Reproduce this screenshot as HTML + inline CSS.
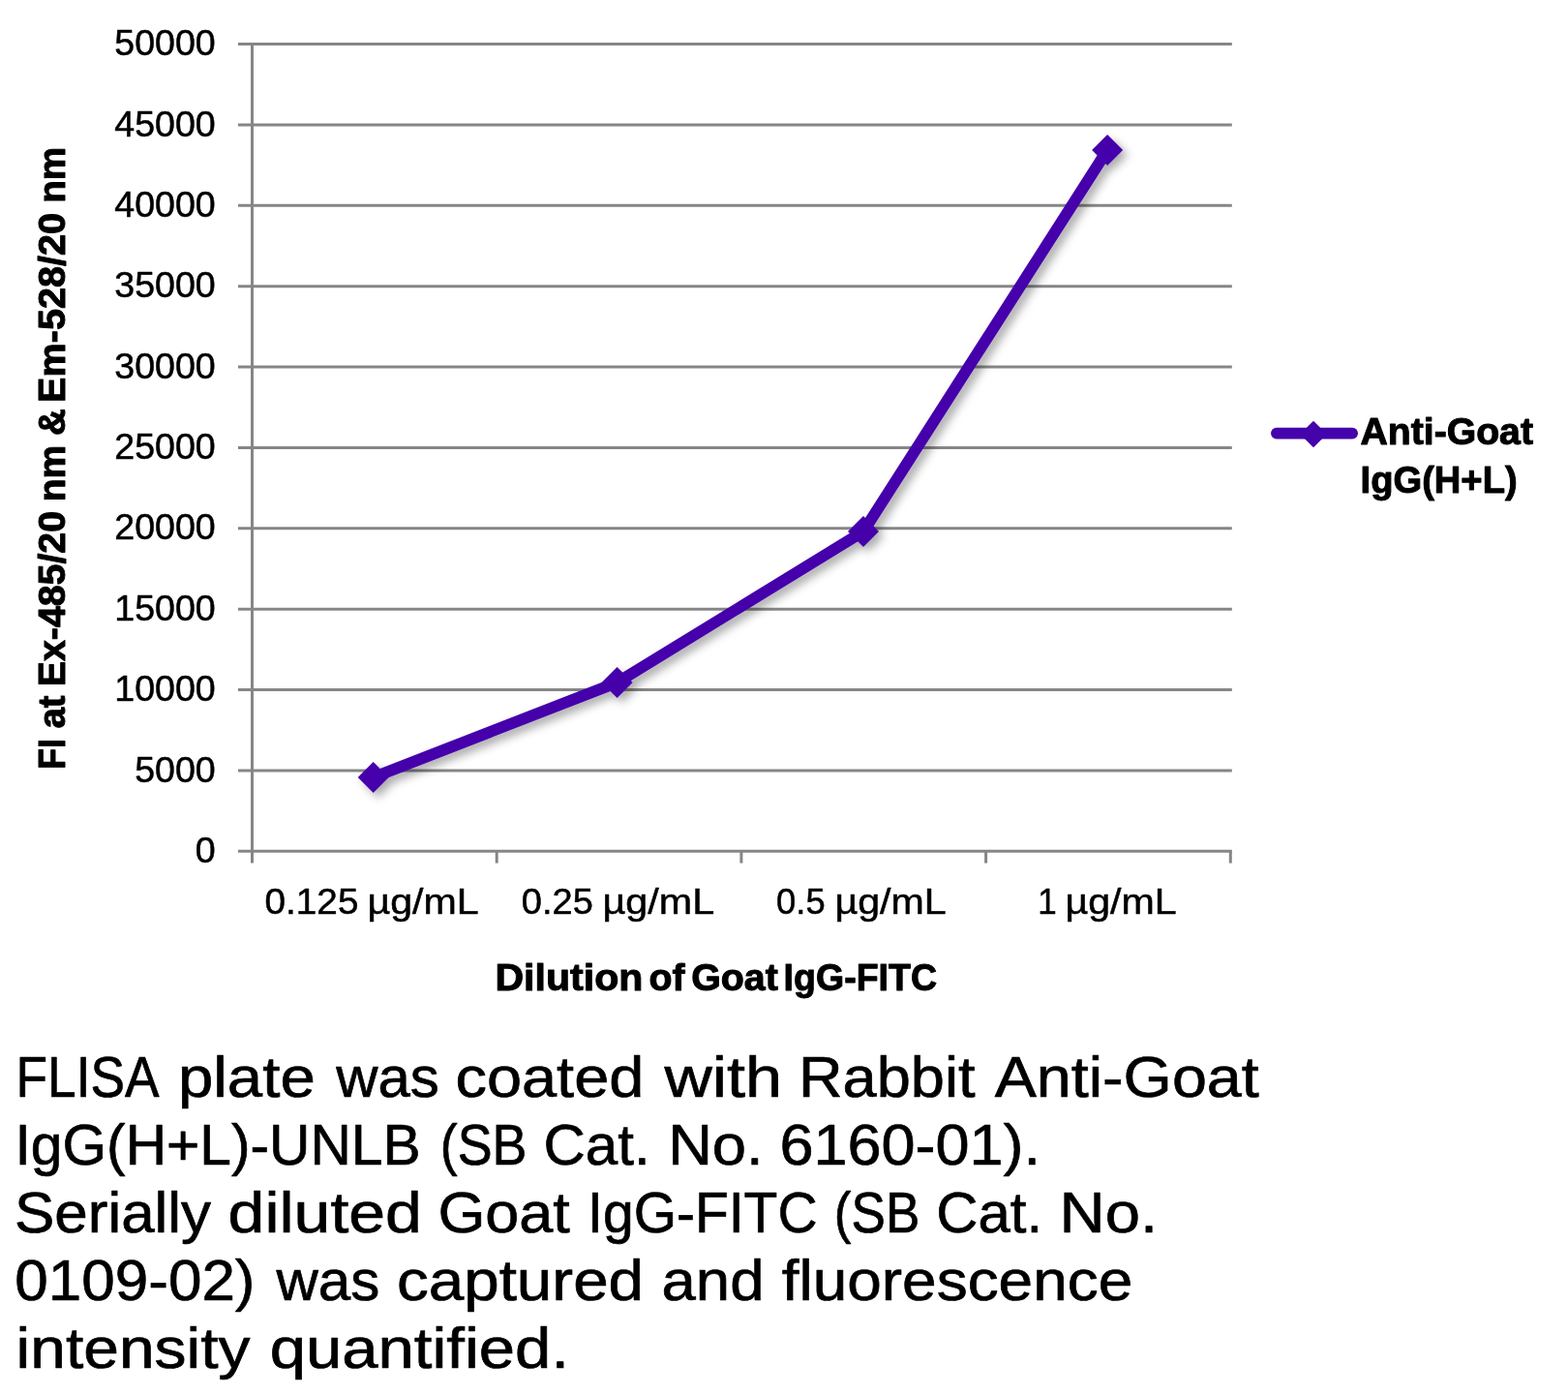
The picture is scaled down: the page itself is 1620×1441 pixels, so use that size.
<!DOCTYPE html>
<html lang="en"><head><meta charset="utf-8"><title>FLISA chart</title>
<style>
html,body{margin:0;padding:0;background:#fff}
body{width:1620px;height:1441px;overflow:hidden;font-family:"Liberation Sans",Arial,sans-serif}
svg{display:block}
text{white-space:pre}
</style></head><body>
<svg width="1620" height="1441" viewBox="0 0 1620 1441">
<defs><filter id="sh" x="-5%" y="-5%" width="112%" height="112%" filterUnits="objectBoundingBox"><feDropShadow dx="5" dy="5" stdDeviation="5" flood-color="#000" flood-opacity="0.33"/></filter></defs>
<rect width="1620" height="1441" fill="#fff"/>
<g stroke="#868686" stroke-width="3" fill="none"><line x1="246" y1="879.30" x2="1272.80" y2="879.30"/><line x1="246" y1="795.93" x2="1272.80" y2="795.93"/><line x1="246" y1="712.56" x2="1272.80" y2="712.56"/><line x1="246" y1="629.19" x2="1272.80" y2="629.19"/><line x1="246" y1="545.82" x2="1272.80" y2="545.82"/><line x1="246" y1="462.45" x2="1272.80" y2="462.45"/><line x1="246" y1="379.08" x2="1272.80" y2="379.08"/><line x1="246" y1="295.71" x2="1272.80" y2="295.71"/><line x1="246" y1="212.34" x2="1272.80" y2="212.34"/><line x1="246" y1="128.97" x2="1272.80" y2="128.97"/><line x1="246" y1="45.60" x2="1272.80" y2="45.60"/><line x1="260.5" y1="44.10" x2="260.5" y2="891.6"/><line x1="513.20" y1="879.30" x2="513.20" y2="891.6"/><line x1="765.90" y1="879.30" x2="765.90" y2="891.6"/><line x1="1018.60" y1="879.30" x2="1018.60" y2="891.6"/><line x1="1271.30" y1="879.30" x2="1271.30" y2="891.6"/></g>
<g filter="url(#sh)"><polyline points="385.7,803.0 637.6,705.0 892.0,549.0 1144.1,155.0" fill="none" stroke="#4503ab" stroke-width="11.7" stroke-linejoin="round"/><path d="M369.7,803.0L385.7,787.0L401.7,803.0L385.7,819.0Z" fill="#4503ab"/><path d="M621.6,705.0L637.6,689.0L653.6,705.0L637.6,721.0Z" fill="#4503ab"/><path d="M876.0,549.0L892.0,533.0L908.0,549.0L892.0,565.0Z" fill="#4503ab"/><path d="M1128.1,155.0L1144.1,139.0L1160.1,155.0L1144.1,171.0Z" fill="#4503ab"/></g>
<line x1="1318.8" y1="447.6" x2="1397.2" y2="447.6" stroke="#4503ab" stroke-width="11.6" stroke-linecap="round"/>
<path d="M1344.3,448.5L1357,435.8L1369.7,448.5L1357,461.2Z" fill="#4503ab" stroke="#4503ab" stroke-width="1.5" stroke-linejoin="round"/>
<g font-family="'Liberation Sans', Arial, sans-serif"><g fill="#000" stroke="#000" stroke-width="0.5" stroke-linejoin="round"><text transform="translate(201.87 890.95) scale(1.0200 1)" font-size="36.86">0</text>
<text transform="translate(139.16 807.58) scale(1.0200 1)" font-size="36.86">5000</text>
<text transform="translate(118.26 724.21) scale(1.0200 1)" font-size="36.86">10000</text>
<text transform="translate(118.26 640.84) scale(1.0200 1)" font-size="36.86">15000</text>
<text transform="translate(118.26 557.47) scale(1.0200 1)" font-size="36.86">20000</text>
<text transform="translate(118.26 474.10) scale(1.0200 1)" font-size="36.86">25000</text>
<text transform="translate(118.26 390.73) scale(1.0200 1)" font-size="36.86">30000</text>
<text transform="translate(118.26 307.36) scale(1.0200 1)" font-size="36.86">35000</text>
<text transform="translate(118.26 223.99) scale(1.0200 1)" font-size="36.86">40000</text>
<text transform="translate(118.26 140.62) scale(1.0200 1)" font-size="36.86">45000</text>
<text transform="translate(118.26 57.25) scale(1.0200 1)" font-size="36.86">50000</text>
<text transform="translate(273.50 943.75) scale(1.0516 1.0000)" font-size="36.86">0.125</text>
<text transform="translate(379.45 943.75) scale(1.1162 1.0000)" font-size="36.86">µg/mL</text>
<text transform="translate(538.83 943.75) scale(1.0319 1.0000)" font-size="36.86">0.25</text>
<text transform="translate(622.54 943.75) scale(1.1202 1.0000)" font-size="36.86">µg/mL</text>
<text transform="translate(802.09 943.75) scale(0.9873 1.0000)" font-size="36.86">0.5</text>
<text transform="translate(862.55 943.75) scale(1.1162 1.0000)" font-size="36.86">µg/mL</text>
<text transform="translate(1072.33 943.75) scale(0.9500 1.0000)" font-size="36.86">1</text>
<text transform="translate(1100.55 943.75) scale(1.1162 1.0000)" font-size="36.86">µg/mL</text></g><g fill="#000" stroke="#000" stroke-width="1.0" stroke-linejoin="round"><text transform="translate(511.39 1023.20) scale(1.0363 1.0000)" font-size="39.68" font-weight="700">Dilution</text>
<text transform="translate(670.43 1023.20) scale(0.9897 1.0000)" font-size="39.68" font-weight="700">of</text>
<text transform="translate(714.25 1023.20) scale(0.9913 1.0000)" font-size="39.68" font-weight="700">Goat</text>
<text transform="translate(809.62 1023.20) scale(0.9457 1.0000)" font-size="39.68" font-weight="700">IgG-FITC</text>
<text transform="translate(67.00 794.64) rotate(-90) scale(0.8924 1)" font-size="39.68" font-weight="700">FI</text>
<text transform="translate(67.00 752.56) rotate(-90) scale(0.9711 1)" font-size="39.68" font-weight="700">at</text>
<text transform="translate(67.00 709.19) rotate(-90) scale(0.9901 1)" font-size="39.68" font-weight="700">Ex-485/20</text>
<text transform="translate(67.00 518.37) rotate(-90) scale(0.9827 1)" font-size="39.68" font-weight="700">nm</text>
<text transform="translate(67.00 449.99) rotate(-90) scale(0.9675 1)" font-size="39.68" font-weight="700">&amp;</text>
<text transform="translate(67.00 415.91) rotate(-90) scale(0.9983 1)" font-size="39.68" font-weight="700">Em-528/20</text>
<text transform="translate(67.00 209.85) rotate(-90) scale(0.9754 1)" font-size="39.68" font-weight="700">nm</text>
<text transform="translate(1405.48 458.90) scale(1.0331 1.0000)" font-size="37.94" font-weight="700">Anti-Goat</text>
<text transform="translate(1405.58 508.90) scale(1.0055 1.0000)" font-size="37.94" font-weight="700">IgG(H+L)</text></g><g fill="#000" stroke="#000" stroke-width="0.7" stroke-linejoin="round"><text transform="translate(16.59 1133.25) scale(0.8933 1.0000)" font-size="59.59">FLISA</text>
<text transform="translate(183.97 1133.25) scale(1.0973 1.0000)" font-size="59.59">plate</text>
<text transform="translate(347.17 1133.25) scale(1.0065 1.0000)" font-size="59.59">was</text>
<text transform="translate(470.52 1133.25) scale(1.0888 1.0000)" font-size="59.59">coated</text>
<text transform="translate(686.39 1133.25) scale(1.1471 1.0000)" font-size="59.59">with</text>
<text transform="translate(824.97 1133.25) scale(1.0602 1.0000)" font-size="59.59">Rabbit</text>
<text transform="translate(1027.72 1133.25) scale(1.0848 1.0000)" font-size="59.59">Anti-Goat</text>
<text transform="translate(15.55 1202.75) scale(0.9849 1.0000)" font-size="59.59">IgG(H+L)-UNLB</text>
<text transform="translate(454.81 1202.75) scale(0.9029 1.0000)" font-size="59.59">(SB</text>
<text transform="translate(561.44 1202.75) scale(1.0087 1.0000)" font-size="59.59">Cat.</text>
<text transform="translate(690.16 1202.75) scale(1.0625 1.0000)" font-size="59.59">No.</text>
<text transform="translate(805.50 1202.75) scale(1.0572 1.0000)" font-size="59.59">6160-01).</text>
<text transform="translate(15.00 1272.95) scale(1.0396 1.0000)" font-size="59.59">Serially</text>
<text transform="translate(235.59 1272.95) scale(1.1410 1.0000)" font-size="59.59">diluted</text>
<text transform="translate(452.40 1272.95) scale(1.0562 1.0000)" font-size="59.59">Goat</text>
<text transform="translate(607.10 1272.95) scale(0.9567 1.0000)" font-size="59.59">IgG-FITC</text>
<text transform="translate(861.86 1272.95) scale(0.8899 1.0000)" font-size="59.59">(SB</text>
<text transform="translate(967.15 1272.95) scale(1.0067 1.0000)" font-size="59.59">Cat.</text>
<text transform="translate(1094.60 1272.95) scale(1.0941 1.0000)" font-size="59.59">No.</text>
<text transform="translate(15.37 1343.05) scale(1.0404 1.0000)" font-size="59.59">0109-02)</text>
<text transform="translate(285.47 1343.05) scale(1.0084 1.0000)" font-size="59.59">was</text>
<text transform="translate(410.00 1343.05) scale(1.1001 1.0000)" font-size="59.59">captured</text>
<text transform="translate(683.59 1343.05) scale(1.0647 1.0000)" font-size="59.59">and</text>
<text transform="translate(807.75 1343.05) scale(1.0729 1.0000)" font-size="59.59">fluorescence</text>
<text transform="translate(16.60 1413.25) scale(1.1066 1.0000)" font-size="59.59">intensity</text>
<text transform="translate(278.63 1413.25) scale(1.1252 1.0000)" font-size="59.59">quantified.</text></g></g>
</svg>
</body></html>
